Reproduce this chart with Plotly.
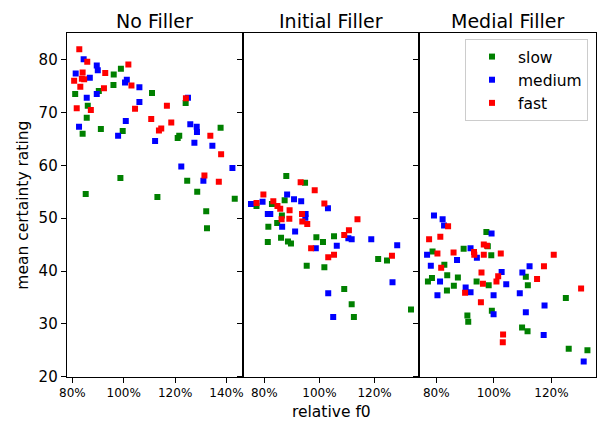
import plotly.graph_objects as go

# ---------------- data ----------------
panel_titles = ["No Filler", "Initial Filler", "Medial Filler"]
speeds = ["slow", "medium", "fast"]
speed_colors = ["#008000", "#0000ff", "#ff0000"]

# No Filler
nf_slow_x = [81.1, 86.0, 85.6, 84.0, 90.3, 91.1, 96.1, 96.0, 98.9, 99.6, 111.0, 124.1, 121.6, 121.0, 137.7, 98.7, 85.2, 113.1, 124.7, 128.6, 143.2, 132.1, 132.4]
nf_slow_y = [73.5, 71.3, 69.0, 66.0, 74.1, 66.9, 77.2, 75.2, 78.3, 66.5, 73.7, 71.8, 65.6, 65.2, 67.1, 57.6, 54.6, 54.0, 57.1, 55.0, 53.7, 51.3, 48.1]
nf_medium_x = [84.4, 81.3, 89.5, 89.9, 86.8, 85.6, 89.5, 82.6, 101.2, 100.5, 106.1, 106.1, 100.8, 97.8, 112.2, 125.0, 125.9, 128.4, 128.5, 127.5, 134.5, 122.4, 131.0, 142.3]
nf_medium_y = [80.1, 77.4, 78.9, 78.0, 76.6, 72.8, 73.5, 67.3, 76.2, 75.7, 74.8, 72.0, 68.4, 65.6, 64.6, 72.8, 67.8, 67.3, 66.3, 64.3, 63.7, 59.8, 57.1, 59.5]
nf_fast_x = [82.7, 85.8, 84.0, 80.7, 83.7, 84.6, 83.1, 81.7, 87.2, 92.8, 92.3, 101.8, 103.0, 104.4, 110.7, 116.8, 118.5, 113.7, 114.6, 124.2, 133.7, 137.9, 131.4, 137.0]
nf_fast_y = [82.0, 79.6, 77.6, 76.0, 76.4, 76.3, 74.9, 70.8, 70.5, 77.5, 74.6, 79.1, 75.1, 70.7, 68.8, 71.3, 68.1, 66.6, 67.0, 72.7, 65.6, 62.1, 58.1, 56.9]

# Initial Filler
if_slow_x = [88.0, 94.8, 77.2, 82.8, 87.4, 86.4, 84.7, 81.5, 81.3, 86.1, 88.6, 89.7, 98.9, 101.3, 105.3, 95.4, 101.8, 109.0, 111.7, 112.5, 121.3, 124.5, 133.2]
if_slow_y = [58.0, 56.7, 52.3, 52.7, 53.4, 50.5, 49.1, 48.4, 45.5, 46.3, 45.6, 45.2, 46.4, 45.5, 46.6, 41.0, 40.7, 36.6, 33.7, 31.3, 42.3, 42.0, 32.7]
if_medium_x = [75.2, 79.4, 81.3, 82.2, 88.3, 90.8, 93.4, 95.0, 94.9, 86.5, 91.2, 103.1, 98.7, 106.3, 110.5, 111.7, 118.8, 128.2, 126.5, 103.2, 105.0]
if_medium_y = [52.7, 53.1, 50.8, 50.8, 54.5, 53.6, 53.2, 50.8, 50.1, 48.4, 47.5, 51.9, 44.3, 44.8, 46.2, 46.0, 46.0, 44.9, 37.9, 35.8, 31.3]
if_fast_x = [77.2, 79.7, 83.3, 84.8, 85.8, 89.2, 86.3, 89.1, 93.2, 98.3, 93.7, 93.8, 95.6, 101.8, 113.8, 110.7, 109.0, 97.0, 103.2, 105.3, 126.3]
if_fast_y = [52.9, 54.5, 53.2, 52.3, 51.8, 51.5, 49.8, 49.9, 56.8, 55.3, 50.8, 49.4, 48.9, 52.8, 49.8, 47.7, 46.8, 44.3, 42.6, 43.1, 42.9]

# Medial Filler
mf_slow_x = [78.7, 82.8, 78.5, 77.1, 83.8, 87.5, 86.1, 83.7, 89.5, 97.4, 97.9, 99.1, 94.0, 98.2, 90.8, 91.1, 99.3, 111.1, 111.8, 109.8, 111.7, 125.0, 126.0, 132.5]
mf_slow_y = [43.7, 41.2, 38.7, 38.0, 39.2, 38.8, 37.2, 36.3, 44.2, 47.4, 44.7, 43.0, 38.0, 37.3, 31.6, 30.4, 32.5, 38.9, 37.3, 29.3, 28.6, 34.9, 25.3, 25.0]
mf_medium_x = [79.2, 82.2, 82.7, 76.8, 78.1, 81.3, 80.4, 87.2, 91.9, 94.1, 99.2, 90.2, 91.9, 99.9, 99.9, 102.7, 104.3, 109.9, 112.4, 109.0, 111.1, 117.6, 117.3, 131.2]
mf_medium_y = [50.5, 49.8, 48.6, 43.1, 41.0, 38.0, 35.4, 42.1, 44.3, 42.5, 47.1, 36.9, 36.0, 35.4, 31.8, 39.8, 37.5, 39.7, 40.9, 35.8, 32.2, 33.5, 27.9, 22.9]
mf_fast_x = [84.1, 77.5, 81.4, 80.4, 81.7, 86.0, 93.1, 93.2, 96.5, 97.6, 96.5, 102.4, 95.7, 96.2, 101.5, 100.9, 90.0, 95.5, 103.2, 103.1, 120.8, 117.4, 115.0, 130.3]
mf_fast_y = [48.5, 46.0, 46.5, 43.3, 40.6, 43.5, 43.6, 43.1, 45.0, 44.8, 43.1, 43.3, 39.7, 37.6, 39.0, 38.0, 35.9, 34.1, 28.0, 26.5, 43.1, 40.9, 38.5, 36.7]

x_tick_vals = [80, 100, 120, 140]
x_tick_text = ["80%", "100%", "120%", "140%"]
y_tick_vals = [20, 30, 40, 50, 60, 70, 80]

panels = [
    [(nf_slow_x, nf_slow_y), (nf_medium_x, nf_medium_y), (nf_fast_x, nf_fast_y)],
    [(if_slow_x, if_slow_y), (if_medium_x, if_medium_y), (if_fast_x, if_fast_y)],
    [(mf_slow_x, mf_slow_y), (mf_medium_x, mf_medium_y), (mf_fast_x, mf_fast_y)],
]

# ---------------- layout constants ----------------
W, H = 598, 423
x_px = [(66.7, 242.7), (242.7, 419.0), (419.3, 595.5)]
y_px = (33.3, 376.7)
x_ranges = [[77.8, 146.3], [72.2, 136.1], [74.1, 135.3]]
y_range = [20, 85]
FONT = "DejaVu Sans"

fig = go.Figure()
for p, series in enumerate(panels):
    ax = "" if p == 0 else str(p + 1)
    for s, (xs, ys) in enumerate(series):
        fig.add_trace(go.Scatter(
            x=xs, y=ys, mode="markers", name=speeds[s],
            legendgroup=speeds[s], showlegend=(p == 0),
            marker=dict(symbol="square", size=6, color=speed_colors[s], line=dict(width=0)),
            xaxis="x" + ax, yaxis="y" + ax,
        ))

layout = dict(
    width=W, height=H, margin=dict(l=0, r=0, t=0, b=0, autoexpand=False),
    plot_bgcolor="white", paper_bgcolor="white",
    font=dict(family=FONT, color="black"),
    showlegend=True,
    legend=dict(x=588 / W, xanchor="right", y=1 - 39 / H, yanchor="top",
                bordercolor="#cccccc", borderwidth=1, bgcolor="white",
                font=dict(size=15.5, family=FONT), itemsizing="trace",
                itemwidth=42, tracegroupgap=0),
)
annotations = []
for p in range(3):
    ax = "" if p == 0 else str(p + 1)
    x0, x1 = x_px[p]
    layout["xaxis" + ax] = dict(
        domain=[x0 / W, x1 / W], range=x_ranges[p], anchor="y" + ax,
        tickvals=x_tick_vals, ticktext=x_tick_text,
        ticks="outside", ticklen=5, tickwidth=1, tickcolor="black",
        showline=True, linecolor="black", linewidth=1, mirror=True,
        showgrid=False, zeroline=False, tickfont=dict(size=12, family=FONT),
    )
    layout["yaxis" + ax] = dict(
        domain=[1 - y_px[1] / H, 1 - y_px[0] / H], range=y_range, anchor="x" + ax,
        tickvals=y_tick_vals, showticklabels=(p == 0),
        ticks="outside", ticklen=5, tickwidth=1, tickcolor="black",
        showline=True, linecolor="black", linewidth=1, mirror=True,
        showgrid=False, zeroline=False, tickfont=dict(size=15, family=FONT),
    )
    annotations.append(dict(
        text=panel_titles[p], x=(x0 + x1) / 2 / W, y=1 - 20.6 / H,
        xref="paper", yref="paper", xanchor="center", yanchor="middle",
        showarrow=False, font=dict(size=19, family=FONT),
    ))
annotations.append(dict(text="relative f0", x=331 / W, y=1 - 412 / H, xref="paper", yref="paper",
                        xanchor="center", yanchor="middle", showarrow=False,
                        font=dict(size=15.5, family=FONT)))
annotations.append(dict(text="mean certainty rating", x=22.7 / W, y=1 - 205 / H, xref="paper", yref="paper",
                        xanchor="center", yanchor="middle", textangle=-90, showarrow=False,
                        font=dict(size=15.5, family=FONT)))
layout["annotations"] = annotations
fig.update_layout(**layout)
fig.write_html("out.html", config={"displayModeBar": False},
               post_script="document.body.style.margin='0px';document.body.style.overflow='hidden';")
